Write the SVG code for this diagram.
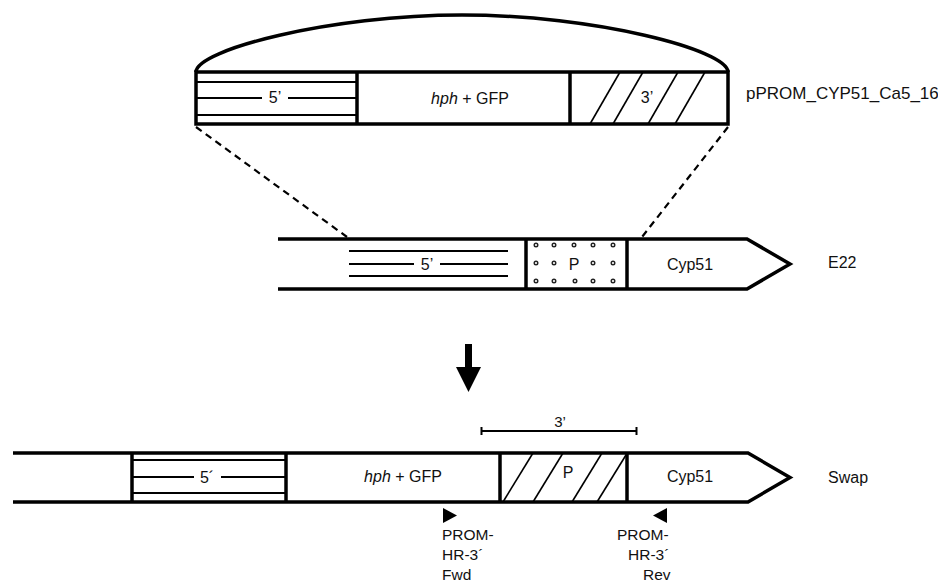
<svg xmlns="http://www.w3.org/2000/svg" width="938" height="585" viewBox="0 0 938 585">
<style>
.t{font-family:"Liberation Sans",Arial,sans-serif;font-size:16px;fill:#111}
.m{text-anchor:middle}
.b{fill:none;stroke:#000;stroke-width:3.5;stroke-linejoin:miter}
.d{fill:none;stroke:#000;stroke-width:3.5}
.i{fill:none;stroke:#000;stroke-width:2}
.h{fill:none;stroke:#000;stroke-width:1.6}
.dash{fill:none;stroke:#000;stroke-width:2.2;stroke-dasharray:7,5}
.dot{fill:#fff;stroke:#222;stroke-width:1.4}
</style>
<rect width="938" height="585" fill="#fff"/>
<g id="plasmid">
<path class="b" d="M196,72 C196,50 330,15 462,15 C594,15 728,50 728,72"/>
<rect class="b" x="196" y="72" width="532" height="52"/>
<g id="p-5">
<line class="i" x1="197" y1="82" x2="357" y2="82"/>
<line class="i" x1="197" y1="115" x2="357" y2="115"/>
<line class="i" x1="197" y1="98" x2="262" y2="98"/>
<line class="i" x1="288" y1="98" x2="357" y2="98"/>
<text class="t m" x="275" y="103">5’</text>
</g>
<line class="d" x1="357" y1="72" x2="357" y2="124"/>
<text class="t m" x="470" y="104"><tspan font-style="italic">hph</tspan> + GFP</text>
<line class="d" x1="570" y1="72" x2="570" y2="124"/>
<g id="p-3">
<line class="h" x1="590" y1="124" x2="620" y2="72"/>
<line class="h" x1="613" y1="124" x2="643" y2="72"/>
<line class="h" x1="648" y1="124" x2="678" y2="72"/>
<line class="h" x1="675" y1="124" x2="705" y2="72"/>
<rect x="638" y="88" width="18" height="18" fill="#fff"/>
<text class="t m" x="647" y="103">3’</text>
</g>
<text class="t" x="746" y="99" style="font-size:17px">pPROM_CYP51_Ca5_16</text>
</g>
<g id="connectors">
<line class="dash" x1="196" y1="127" x2="347" y2="237"/>
<line class="dash" x1="728" y1="127" x2="642" y2="237"/>
<rect x="465" y="344" width="7" height="26" fill="#000"/>
<polygon points="456,367 481,367 468.5,392" fill="#000"/>
</g>
<g id="e22">
<path class="b" d="M278,239 H747 L790,264 L747,289 H278"/>
<line class="i" x1="349" y1="251" x2="508" y2="251"/>
<line class="i" x1="349" y1="276" x2="508" y2="276"/>
<line class="i" x1="349" y1="264" x2="414" y2="264"/>
<line class="i" x1="440" y1="264" x2="508" y2="264"/>
<text class="t m" x="427" y="270">5’</text>
<line class="d" x1="526" y1="239" x2="526" y2="289"/>
<line class="d" x1="627" y1="239" x2="627" y2="289"/>
<g id="e22-p">
<circle class="dot" cx="536" cy="245" r="1.8"/><circle class="dot" cx="554" cy="245" r="1.8"/><circle class="dot" cx="574" cy="245" r="1.8"/><circle class="dot" cx="593" cy="245" r="1.8"/><circle class="dot" cx="613" cy="245" r="1.8"/>
<circle class="dot" cx="536" cy="263" r="1.8"/><circle class="dot" cx="554" cy="263" r="1.8"/><circle class="dot" cx="593" cy="263" r="1.8"/><circle class="dot" cx="613" cy="263" r="1.8"/>
<circle class="dot" cx="536" cy="281" r="1.8"/><circle class="dot" cx="554" cy="281" r="1.8"/><circle class="dot" cx="575" cy="281" r="1.8"/><circle class="dot" cx="593" cy="281" r="1.8"/><circle class="dot" cx="613" cy="281" r="1.8"/>
<text class="t m" x="574" y="270">P</text>
</g>
<text class="t m" x="690" y="270">Cyp51</text>
<text class="t" x="828" y="268">E22</text>
</g>
<g id="swap">
<path class="b" d="M13,453 H748 L790,477.5 L748,502 H13"/>
<line class="d" x1="132" y1="453" x2="132" y2="502"/>
<line class="i" x1="132" y1="460" x2="286" y2="460"/>
<line class="i" x1="132" y1="493" x2="286" y2="493"/>
<line class="i" x1="132" y1="477" x2="194" y2="477"/>
<line class="i" x1="221" y1="477" x2="286" y2="477"/>
<text class="t m" x="207" y="483">5´</text>
<line class="d" x1="286" y1="453" x2="286" y2="502"/>
<text class="t m" x="403" y="482"><tspan font-style="italic">hph</tspan> + GFP</text>
<line class="d" x1="500" y1="453" x2="500" y2="502"/>
<line class="h" x1="503" y1="502" x2="533" y2="453"/>
<line class="h" x1="533" y1="502" x2="563" y2="453"/>
<line class="h" x1="572" y1="502" x2="602" y2="453"/>
<line class="h" x1="597" y1="502" x2="626" y2="455"/>
<rect x="561" y="465" width="14" height="15" fill="#fff"/>
<text class="t m" x="568" y="478">P</text>
<line class="d" x1="627" y1="453" x2="627" y2="502"/>
<text class="t m" x="690" y="482">Cyp51</text>
<text class="t" x="828" y="483">Swap</text>
</g>
<g id="bracket">
<line class="i" x1="481" y1="431" x2="637" y2="431" stroke-width="1.6"/>
<line class="i" x1="481.5" y1="427" x2="481.5" y2="435" stroke-width="1.6"/>
<line class="i" x1="636.5" y1="427" x2="636.5" y2="435" stroke-width="1.6"/>
<text class="t m" x="560" y="427" style="font-size:15px">3’</text>
</g>
<g id="fwd">
<polygon points="443,508 443,523 457,515.5" fill="#000"/>
<text class="t" x="442" y="540" style="font-size:15.5px">PROM-</text>
<text class="t" x="442" y="560" style="font-size:15.5px">HR-3´</text>
<text class="t" x="442" y="580" style="font-size:15.5px">Fwd</text>
</g>
<g id="rev">
<polygon points="667,508 667,523 653,515.5" fill="#000"/>
<text class="t" x="617" y="540" style="font-size:15.5px">PROM-</text>
<text class="t" x="628" y="560" style="font-size:15.5px">HR-3´</text>
<text class="t" x="643" y="580" style="font-size:15.5px">Rev</text>
</g>
</svg>
